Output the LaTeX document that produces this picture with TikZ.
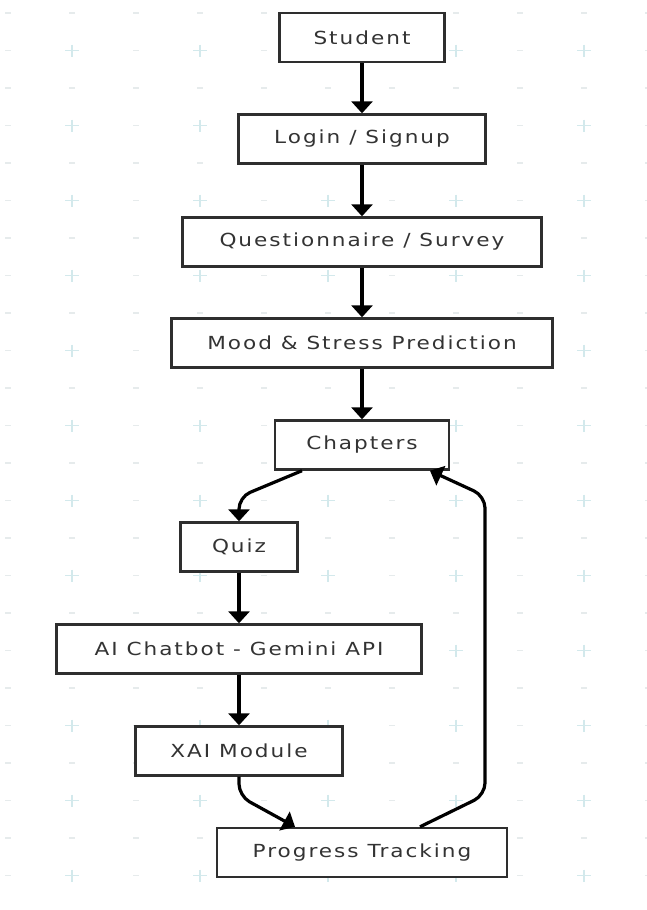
\documentclass[tikz,border=0pt]{standalone}
\usepackage{fontspec}
\setmainfont{DejaVu Sans}[FakeStretch=1.2, LetterSpace=11]
\usetikzlibrary{arrows.meta}

\definecolor{boxline}{HTML}{2E2E2E}
\definecolor{boxtext}{HTML}{333333}
\definecolor{gridplus}{HTML}{D3E9EC}
\definecolor{griddash}{HTML}{E6EBEC}

\tikzset{
  box/.style={draw=boxline, fill=white, line width=2.4pt, minimum height=49pt,
    inner xsep=0pt, text=boxtext, font=\fontsize{18}{22}\selectfont},
  arr/.style={-{Triangle[length=12pt,width=21pt]}, line width=3.2pt, rounded corners=12pt},
  dashmark/.style={draw=griddash, line width=1.6pt},
  plusmark/.style={draw=gridplus, line width=1.6pt}
}

\begin{document}
\begin{tikzpicture}[x=1pt, y=-1pt]
  \useasboundingbox (0,0) rectangle (646,910);
  \fill[white] (0,0) rectangle (646,910);

  % background marks
  \foreach \i in {0,...,10}{
    \foreach \j in {0,...,23}{
      \pgfmathsetmacro{\gx}{8+64*\i}
      \pgfmathsetmacro{\gy}{13+37.5*\j}
      \pgfmathparse{int(mod(\i,2)*mod(\j,2))}
      \ifnum\pgfmathresult=1
        \draw[plusmark] (\gx-7,\gy) -- (\gx+7,\gy) (\gx,\gy-6) -- (\gx,\gy+6);
      \else
        \draw[dashmark] (\gx-3,\gy) -- (\gx+3,\gy);
      \fi
    }
  }

  \node[box, minimum width=165pt] (student) at (362,37.5) {Student};
  \node[box, minimum width=247pt] (login) at (362,139) {Login / Signup};
  \node[box, minimum width=359pt] (quest) at (362,242) {Questionnaire / Survey};
  \node[box, minimum width=381pt] (mood) at (362,343) {Mood \& Stress Prediction};
  \node[box, minimum width=174pt] (chap) at (362,445) {Chapters};
  \node[box, minimum width=117pt] (quiz) at (239,547) {Quiz};
  \node[box, minimum width=365pt] (chatbot) at (239,649) {AI Chatbot - Gemini API};
  \node[box, minimum width=207pt] (xai) at (239,751) {XAI Module};
  \node[box, minimum width=290pt] (prog) at (362,852.5) {Progress Tracking};

  \draw[arr] (student) -- (login);
  \draw[arr] (login) -- (quest);
  \draw[arr] (quest) -- (mood);
  \draw[arr] (mood) -- (chap);
  \draw[arr] ([xshift=-60pt]chap.south) -- (quiz.north |- 0,497) -- (quiz.north);
  \draw[arr] (quiz) -- (chatbot);
  \draw[arr] (chatbot) -- (xai);
  \draw[arr] (xai.south) -- (xai.south |- 0,796) -- ([xshift=-67pt]prog.north);
  \draw[arr] ([xshift=58pt]prog.north) -- (485,795) -- (485,496) -- ([xshift=68pt]chap.south);
\end{tikzpicture}
\end{document}
